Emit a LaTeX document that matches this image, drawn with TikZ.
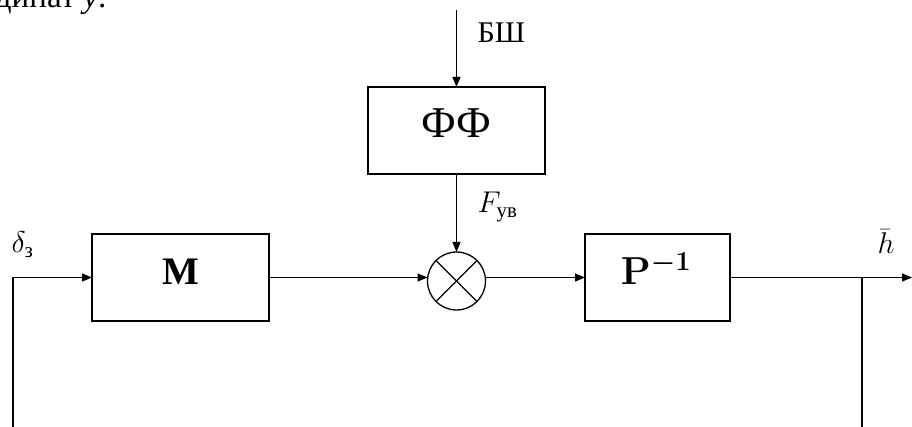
\RequirePackage{fix-cm}
\documentclass[tikz,border=0pt]{standalone}
\usepackage{amsmath}
\usepackage{fontspec}
\setmainfont{Liberation Serif}
\usetikzlibrary{arrows.meta}
\begin{document}
\begin{tikzpicture}[x=1pt,y=-1pt,
  line width=1.3pt,
  >={Triangle[length=10pt,width=8pt]},
  blk/.style={draw, rectangle, inner sep=0pt, outer sep=0pt, minimum height=87pt},
  sumc/.style={draw, circle, inner sep=0pt, outer sep=0pt, minimum size=58pt},
  bigtxt/.style={font=\fontsize{44}{44}\selectfont, inner sep=0pt, anchor=base},
  boldtxt/.style={font=\fontsize{39}{39}\selectfont, inner sep=0pt, anchor=base},
  lbl/.style={font=\fontsize{30}{30}\selectfont, inner sep=0pt, anchor=base west},
  txt/.style={font=\fontsize{30}{30}\selectfont, inner sep=0pt}]
\useasboundingbox (0,0) rectangle (912,427);

% clipped text of the page above
\node (frag) [inner sep=0pt, font=\fontsize{33}{33}\selectfont, anchor=base east] at (107,7.5) {координат \textit{y}.};

% blocks
\node (ff) [blk, minimum width=177pt] at (456.5,130.5) {};
\node (fft) [bigtxt] at (456.5,138) {ФФ};
\node (m) [blk, minimum width=177pt] at (180.5,277.5) {};
\node (mt) [boldtxt] at (180.5,285) {$\mathbf{M}$};
\node (p) [blk, minimum width=145pt] at (657.5,277.5) {};
\node (pt) [boldtxt] at (656,285) {$\boldsymbol{\mathbf{P}^{-1}}$};
\node (sum) [sumc] at (456.5,281) {};
\draw (sum.north west) -- (sum.south east);
\draw (sum.north east) -- (sum.south west);

% labels
\node (bsh) [txt, anchor=base west] at (477,43) {БШ};
\node (fuv) [lbl] at (477,213) {$F_{\text{ув}}$};
\node (dz) [lbl] at (11,253) {$\delta_{\text{з}}$};
\node (hb) [lbl] at (877,254) {$\bar{h}$};

% coordinates
\coordinate (top) at (456.5,10);
\coordinate (out) at (912,277.5);
\coordinate (br) at (862,277.5);
\coordinate (brb) at (862,427);
\coordinate (inb) at (13,427);
\coordinate (in) at (13,277.5);

% connectors
\draw[->] (top) -- (ff.north);
\draw[->] (ff.south) -- (sum.north);
\draw[->] (m.east) -- (m.east -| sum.west);
\draw[->] (sum.east |- m.east) -- (p.west);
\draw[->] (p.east) -- (out);
\draw (br) -- (brb);
\draw[->] (inb) -- (in) -- (m.west);
\end{tikzpicture}
\end{document}
